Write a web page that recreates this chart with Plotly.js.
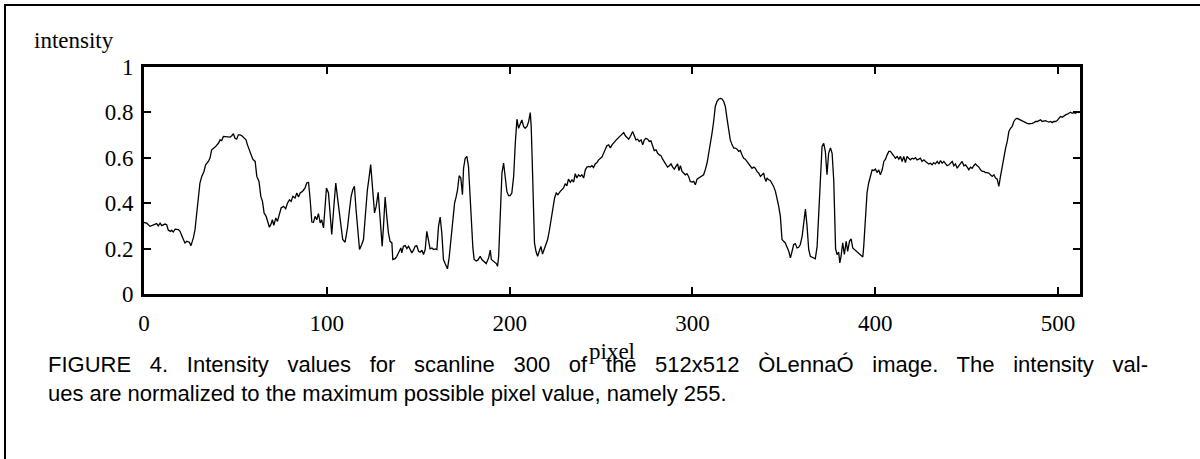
<!DOCTYPE html>
<html>
<head>
<meta charset="utf-8">
<script src="https://cdn.plot.ly/plotly-3.0.1.min.js"></script>
<style>
  html, body { margin: 0; padding: 0; background: #fff; overflow: hidden; width: 1200px; height: 459px; }
  #wrap { position: relative; width: 1200px; height: 459px; overflow: hidden; }
  #chart { position: absolute; left: 0; top: 0; width: 1200px; height: 459px; }
  #frame { position: absolute; left: 4px; top: 4px; width: 1196px; height: 455px; box-sizing: border-box;
           border-left: 2px solid #000; border-top: 2px solid #000; pointer-events: none; }
  .cap { position: absolute; left: 48px; font-family: "Liberation Sans Narrow", "Arial Narrow", "Liberation Sans", Arial, sans-serif;
         font-size: 22px; color: #000; line-height: 1; }
  #cap1 { width: 1100px; text-align: justify; text-align-last: justify; white-space: normal; }
  #cap2 { white-space: nowrap; text-align: left; }
</style>
</head>
<body>
<div id="wrap">
  <div id="chart"></div>
  <div id="frame"></div>
  <div class="cap" id="cap1" style="top:354px;">FIGURE 4. Intensity values for scanline 300 of the 512x512 ÒLennaÓ image. The intensity val-</div>
  <div class="cap" id="cap2" style="top:383px;">ues are normalized to the maximum possible pixel value, namely 255.</div>
</div>
<script>
// pixel positions along scanline 300
const pixel = [
0,1.5,3.3,5.1,6.9,7.8,8.8,9.7,11.5,12.4,13.3,14.6,15.1,16.0,17.0,18.8,19.7,21.2,22.4,23.4,24.8,25.7,27.0,27.9,28.8,29.7,30.6,31.6,32.8,33.7,35.2,36.1,37.0,38.9,40.7,41.6,42.5,43.4,44.9,46.2,47.1,48.0,48.9,49.8,50.7,51.6,52.5,53.5,54.4,55.8,56.6,57.5,58.6,59.5,
60.8,61.7,62.9,63.9,64.8,65.7,66.8,67.7,68.6,69.5,70.2,71.0,72.1,73.0,73.9,75.0,76.3,77.5,78.5,79.6,80.5,81.4,82.6,83.6,84.5,85.4,86.7,88.1,89.0,90.0,90.9,91.8,92.7,93.6,94.5,95.4,96.4,97.2,98.2,99.1,99.8,100.9,101.8,102.7,104.0,104.9,106.0,106.9,107.8,108.7,110.0,111.3,112.4,113.3,114.2,115.1,116.0,116.9,117.9,119.1,120.05,120.9,122.2,123.3,
124.0,124.8,125.5,126.1,127.0,128.1,128.8,129.5,130.3,131.0,131.9,132.8,133.7,134.6,135.6,136.1,137.4,138.3,138.8,139.8,140.5,141.0,141.9,142.9,143.8,144.7,145.6,146.5,147.4,148.3,149.2,150.2,151.1,152.0,152.9,153.8,154.7,155.6,156.5,157.5,158.4,159.3,160.2,161.1,162.0,162.9,163.8,164.7,166.0,166.9,167.8,168.8,169.9,170.8,171.5,172.4,173.3,174.2,174.8,175.7,176.6,177.5,178.4,179.0,179.9,180.6,181.7,182.6,183.9,184.8,185.7,187.2,
188.5,189.4,190.0,190.9,191.8,192.7,193.4,194.0,194.5,195.0,195.8,196.7,197.6,198.5,199.4,200.3,201.2,202.2,203.1,204.0,204.9,205.8,206.7,207.6,208.5,209.5,210.4,211.3,211.8,212.5,213.1,213.6,214.4,215.3,216.2,217.1,218.0,218.9,219.8,220.8,221.8,222.8,223.7,224.6,225.5,226.4,227.7,228.6,229.5,230.4,231.3,232.2,233.2,234.1,235.0,235.9,236.8,237.7,238.6,239.5,240.5,241.4,242.3,243.2,244.1,245.0,245.9,246.8,247.8,248.7,249.6,250.5,251.4,252.3,
253.2,254.2,255.1,256.0,256.9,257.8,258.7,259.6,260.5,261.4,262.4,263.3,264.2,265.1,266.0,267.3,268.2,269.1,270.0,270.9,271.9,272.8,273.7,274.6,275.5,276.4,277.3,278.2,279.1,280.1,281.0,281.9,282.8,283.7,284.6,285.5,286.4,287.4,288.3,289.2,290.1,291.0,291.9,292.6,293.4,294.3,295.2,296.1,297.0,297.9,298.8,299.8,300.7,301.6,302.5,303.4,304.3,305.2,306.1,307.0,308.0,308.9,309.8,310.7,311.6,
312.5,313.4,314.4,315.3,316.2,317.1,318.0,318.9,319.8,320.7,321.7,322.6,323.5,324.4,325.3,326.2,327.1,328.0,328.9,329.9,330.8,331.7,332.6,333.5,334.4,335.3,336.2,337.2,338.1,339.0,339.5,340.3,340.8,341.7,342.6,343.5,344.4,345.4,346.3,347.2,348.1,349.0,349.9,350.8,351.7,352.7,353.6,354.5,355.4,356.3,357.2,358.1,359.0,360.0,360.9,361.8,362.7,363.6,364.5,365.4,366.3,367.2,368.2,369.1,370.0,370.9,371.8,372.7,373.6,374.5,375.5,376.4,377.3,378.3,
379.1,380.0,380.6,381.3,382.2,383.1,384.1,384.9,385.9,386.8,387.7,388.6,389.5,390.4,391.3,392.3,393.2,393.7,394.6,395.5,396.4,397.4,398.3,399.2,400.1,401.0,401.9,402.8,403.8,404.7,405.6,406.5,407.4,408.3,409.2,410.1,411.0,412.0,412.9,413.8,414.7,415.6,416.5,417.4,418.3,419.2,420.2,421.1,422.0,422.9,423.8,424.7,425.6,426.6,427.5,428.4,429.3,430.2,431.1,432.0,432.9,433.9,434.8,435.7,436.6,437.5,
438.4,439.3,440.3,441.2,442.1,443.0,443.9,444.8,445.7,446.6,447.5,448.5,449.4,450.3,451.2,452.1,453.0,453.9,454.8,455.8,456.7,457.6,458.5,459.4,460.3,461.2,462.1,463.0,464.0,464.9,465.8,466.7,467.6,468.5,469.4,470.3,471.3,472.2,473.1,474.0,474.9,475.8,476.7,477.6,478.5,479.5,480.4,481.3,482.2,483.1,484.0,484.9,485.8,486.8,487.7,488.6,489.5,490.4,491.3,492.2,493.1,494.1,495.0,495.9,496.8,497.7,498.6,499.5,500.4,501.3,502.3,503.2,504.1,505.0,505.9,506.8,507.7,508.6,509.6,510.5,511.4
];
// normalized intensity values
const intensity = [
0.315,0.312,0.298,0.305,0.310,0.300,0.312,0.301,0.308,0.305,0.281,0.276,0.281,0.273,0.286,0.284,0.276,0.247,0.225,0.232,0.228,0.213,0.247,0.283,0.357,0.430,0.489,0.518,0.540,0.569,0.584,0.599,0.635,0.647,0.664,0.679,0.676,0.694,0.694,0.694,0.691,0.697,0.706,0.686,0.682,0.701,0.701,0.697,0.691,0.679,0.657,0.635,0.606,0.594,
0.584,0.518,0.496,0.430,0.408,0.357,0.342,0.313,0.294,0.308,0.327,0.303,0.335,0.320,0.349,0.379,0.386,0.376,0.401,0.415,0.408,0.430,0.423,0.445,0.427,0.445,0.452,0.467,0.489,0.492,0.415,0.317,0.316,0.342,0.327,0.354,0.313,0.327,0.291,0.415,0.467,0.445,0.357,0.262,0.401,0.489,0.415,0.357,0.283,0.240,0.228,0.291,0.371,0.430,0.459,0.474,0.371,0.298,0.196,0.218,0.240,0.327,0.459,0.525,
0.570,0.489,0.401,0.357,0.386,0.448,0.371,0.269,0.210,0.298,0.427,0.342,0.269,0.232,0.225,0.152,0.156,0.166,0.174,0.193,0.203,0.181,0.210,0.213,0.200,0.210,0.196,0.181,0.193,0.210,0.213,0.188,0.184,0.193,0.174,0.196,0.276,0.232,0.199,0.203,0.196,0.199,0.196,0.298,0.339,0.269,0.152,0.134,0.111,0.159,0.240,0.327,0.401,0.430,0.459,0.521,0.511,0.437,0.554,0.598,0.606,0.562,0.415,0.313,0.203,0.152,0.145,0.149,0.166,0.152,0.145,0.134,
0.159,0.193,0.152,0.145,0.140,0.134,0.122,0.166,0.269,0.415,0.533,0.577,0.518,0.452,0.433,0.433,0.445,0.518,0.664,0.770,0.730,0.745,0.767,0.738,0.730,0.738,0.760,0.799,0.738,0.547,0.371,0.225,0.188,0.166,0.188,0.210,0.176,0.199,0.218,0.240,0.283,0.335,0.379,0.423,0.445,0.437,0.452,0.459,0.467,0.486,0.477,0.506,0.492,0.503,0.493,0.530,0.511,0.525,0.518,0.525,0.511,0.547,0.559,0.562,0.559,0.565,0.557,0.573,0.579,0.591,0.598,0.603,0.620,0.638,
0.653,0.657,0.643,0.657,0.667,0.675,0.682,0.689,0.697,0.706,0.711,0.697,0.689,0.682,0.694,0.716,0.697,0.679,0.682,0.672,0.679,0.657,0.679,0.686,0.682,0.672,0.675,0.657,0.632,0.635,0.620,0.613,0.609,0.594,0.584,0.569,0.559,0.565,0.573,0.559,0.550,0.562,0.573,0.544,0.565,0.540,0.533,0.525,0.530,0.518,0.496,0.493,0.496,0.481,0.506,0.511,0.515,0.518,0.525,0.547,0.577,0.620,0.657,0.708,0.760,
0.826,0.848,0.859,0.862,0.859,0.848,0.826,0.774,0.716,0.679,0.657,0.643,0.643,0.638,0.628,0.632,0.613,0.598,0.594,0.584,0.577,0.565,0.554,0.559,0.554,0.540,0.533,0.518,0.525,0.533,0.511,0.496,0.511,0.503,0.500,0.489,0.474,0.452,0.423,0.386,0.342,0.240,0.232,0.225,0.207,0.188,0.159,0.196,0.218,0.222,0.203,0.206,0.218,0.254,0.313,0.374,0.298,0.196,0.166,0.162,0.159,0.155,0.210,0.371,0.562,0.650,0.664,0.628,0.525,0.620,0.643,0.620,0.500,0.200,
0.174,0.184,0.137,0.166,0.225,0.174,0.232,0.188,0.232,0.243,0.203,0.196,0.188,0.181,0.176,0.169,0.163,0.210,0.342,0.445,0.489,0.525,0.547,0.544,0.550,0.535,0.547,0.525,0.547,0.584,0.594,0.613,0.628,0.628,0.620,0.609,0.598,0.606,0.594,0.606,0.584,0.606,0.579,0.606,0.598,0.591,0.598,0.595,0.601,0.591,0.594,0.598,0.584,0.591,0.584,0.579,0.573,0.576,0.569,0.579,0.573,0.584,0.573,0.588,0.576,0.584,
0.573,0.565,0.569,0.577,0.584,0.565,0.573,0.554,0.565,0.577,0.584,0.565,0.569,0.559,0.547,0.559,0.554,0.565,0.573,0.565,0.559,0.547,0.540,0.540,0.535,0.535,0.533,0.525,0.518,0.525,0.511,0.506,0.474,0.518,0.562,0.606,0.643,0.672,0.716,0.730,0.738,0.760,0.770,0.774,0.770,0.767,0.764,0.760,0.755,0.752,0.750,0.750,0.752,0.755,0.760,0.760,0.764,0.767,0.760,0.763,0.764,0.760,0.757,0.760,0.755,0.760,0.760,0.764,0.774,0.782,0.779,0.785,0.789,0.792,0.796,0.801,0.796,0.799,0.796,0.802,0.799
];
const xTicks = [0, 100, 200, 300, 400, 500];
const yTicks = [0, 0.2, 0.4, 0.6, 0.8, 1];
const yTickText = ['0', '0.2', '0.4', '0.6', '0.8', '1'];

const serif = { family: '"Liberation Serif", "Times New Roman", serif', size: 23, color: '#000' };

const trace = {
  x: pixel, y: intensity, type: 'scatter', mode: 'lines',
  line: { color: '#000', width: 1.3 }, hoverinfo: 'skip'
};

const axisCommon = {
  showgrid: false, zeroline: false, showline: true, linecolor: '#000', linewidth: 3,
  mirror: 'ticks', ticks: 'inside', ticklen: 7, tickwidth: 2, tickcolor: '#000',
  tickfont: serif, fixedrange: true
};

const layout = {
  width: 1200, height: 459,
  margin: { l: 144, r: 120, t: 67, b: 164.5 },
  paper_bgcolor: '#fff', plot_bgcolor: '#fff',
  showlegend: false,
  xaxis: Object.assign({}, axisCommon, {
    range: [0, 512], tickmode: 'array', tickvals: xTicks, ticklabelstandoff: 6
  }),
  yaxis: Object.assign({}, axisCommon, {
    range: [0, 1], tickmode: 'array', tickvals: yTicks, ticktext: yTickText, ticklabelstandoff: 3
  }),
  annotations: [
    { text: 'intensity', xref: 'paper', yref: 'paper', x: -0.1197, y: 1.1187,
      xanchor: 'left', yanchor: 'middle', showarrow: false, font: serif },
    { text: 'pixel', xref: 'paper', yref: 'paper', x: 0.5, y: -0.2527,
      xanchor: 'center', yanchor: 'middle', showarrow: false, font: serif }
  ]
};

Plotly.newPlot('chart', [trace], layout, { displayModeBar: false, staticPlot: true });
</script>
</body>
</html>
